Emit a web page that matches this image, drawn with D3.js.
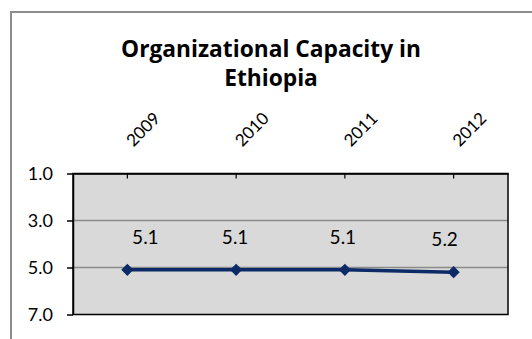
<!DOCTYPE html>
<html>
<head>
<meta charset="utf-8">
<script src="https://cdn.jsdelivr.net/npm/d3@7"></script>
<style>
  html, body { margin: 0; padding: 0; background: #fff; }
  svg { display: block; font-family: Lato, "Open Sans", sans-serif; font-variant-ligatures: none; }
</style>
</head>
<body>
<svg id="chart" width="532" height="339"></svg>
<script>
// Organizational capacity scores by year (lower scale value shown higher)
const years = ["2009", "2010", "2011", "2012"];
const scores = [5.1, 5.1, 5.1, 5.2];
const yTicks = [1, 3, 5, 7];
const titleLines = ["Organizational Capacity in", "Ethiopia"];

// horizontal nudges for the value labels (px), as they were placed by hand
const labelNudge = [18, -1, -2, -9];

const svg = d3.select("#chart");
const W = 532, H = 339;
const plot = { left: 73, right: 508, top: 173.5, bottom: 314.5 };

// outer chart frame (extends past the right and bottom edges)
svg.append("rect")
  .attr("x", 11).attr("y", 12)
  .attr("width", W + 20).attr("height", H + 20)
  .attr("fill", "#fff")
  .attr("stroke", "#8c8c8c").attr("stroke-width", 2);

// title, sized so the first line spans the target width
const title = svg.append("text")
  .attr("text-anchor", "middle")
  .attr("font-family", "'Open Sans', Lato, sans-serif")
  .attr("font-weight", "bold")
  .attr("font-size", 22)
  .attr("fill", "#000");
title.selectAll("tspan").data(titleLines).join("tspan")
  .attr("x", 271)
  .attr("y", (d, i) => 57 + i * 29)
  .text(d => d);
const firstLine = title.select("tspan").node().getComputedTextLength();
title.attr("font-size", 22 * 300 / firstLine);

const x = d3.scaleBand().domain(years).range([plot.left, plot.right]);
const y = d3.scaleLinear().domain([1, 7]).range([plot.top, plot.bottom]);

// plot area background
svg.append("rect")
  .attr("x", plot.left).attr("y", plot.top)
  .attr("width", plot.right - plot.left).attr("height", plot.bottom - plot.top)
  .attr("fill", "#d9d9d9");

// horizontal gridlines
svg.append("g")
  .selectAll("line").data(yTicks.slice(1, -1)).join("line")
  .attr("x1", plot.left).attr("x2", plot.right)
  .attr("y1", d => y(d)).attr("y2", d => y(d))
  .attr("stroke", "#8a8a8a").attr("stroke-width", 1.5);

// plot border
svg.append("rect")
  .attr("x", plot.left).attr("y", plot.top)
  .attr("width", plot.right - plot.left).attr("height", plot.bottom - plot.top)
  .attr("fill", "none")
  .attr("stroke", "#000").attr("stroke-width", 1.5);

// y axis
const yAxis = svg.append("g")
  .attr("transform", `translate(${plot.left},0)`)
  .call(d3.axisLeft(y).tickValues(yTicks).tickFormat(d3.format(".1f"))
    .tickSizeInner(6).tickSizeOuter(0).tickPadding(14));
yAxis.select(".domain").attr("stroke", "#000").attr("stroke-width", 1.5);
yAxis.selectAll(".tick line").attr("stroke", "#000").attr("stroke-width", 1.5);
yAxis.selectAll("text")
  .attr("font-size", 18).attr("fill", "#000")
  .attr("font-family", "Lato, sans-serif");

// x axis along the top, with ticks pointing into the plot
const xAxis = svg.append("g")
  .attr("transform", `translate(0,${plot.top})`)
  .call(d3.axisTop(x).tickSizeInner(-5).tickSizeOuter(0).tickPadding(0));
xAxis.select(".domain").attr("stroke", "#000").attr("stroke-width", 1.5);
xAxis.selectAll(".tick line").attr("stroke", "#000").attr("stroke-width", 1.2);
xAxis.selectAll("text")
  .attr("font-size", 17).attr("fill", "#000")
  .attr("font-family", "Lato, sans-serif")
  .attr("text-anchor", "start")
  .attr("y", 0).attr("dy", 0)
  .attr("transform", "translate(6,-26) rotate(-45)");

// series line and markers
const pts = years.map((yr, i) => ({ yr, v: scores[i], nudge: labelNudge[i] }));
const cx = d => x(d.yr) + x.bandwidth() / 2;

svg.append("path")
  .datum(pts)
  .attr("fill", "none")
  .attr("stroke", "#0b2a66").attr("stroke-width", 3.5)
  .attr("d", d3.line().x(cx).y(d => y(d.v)));

svg.append("g")
  .selectAll("path").data(pts).join("path")
  .attr("transform", d => `translate(${cx(d)},${y(d.v)})`)
  .attr("d", d3.symbol(d3.symbolDiamond2, 95))
  .attr("fill", "#0b2a66");

// value labels above each point
svg.append("g")
  .selectAll("text").data(pts).join("text")
  .attr("x", d => cx(d) + d.nudge)
  .attr("y", d => y(d.v) - 26)
  .attr("text-anchor", "middle")
  .attr("font-size", 19)
  .attr("fill", "#000")
  .text(d => d3.format(".1f")(d.v));
</script>
</body>
</html>
